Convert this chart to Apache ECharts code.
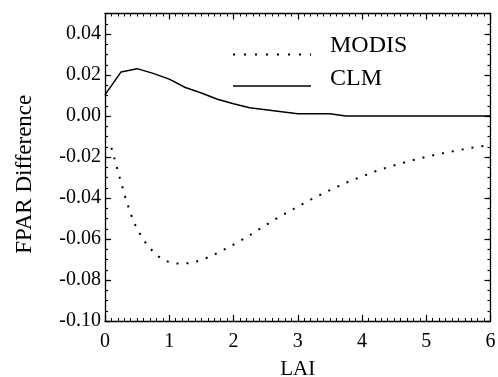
<!DOCTYPE html>
<html><head><meta charset="utf-8">
<script src="https://cdn.jsdelivr.net/npm/echarts@6/dist/echarts.min.js"></script>
<style>html,body{margin:0;padding:0;background:#fff}#c{width:498px;height:377px}</style>
</head><body><div id="c"></div>
<script>
// ---- data ----
const laiModis = [0.1,0.2,0.3,0.4,0.5,0.6,0.7,0.8,0.9,1.0,1.1,1.2,1.3,1.4,1.5,1.6,1.7,1.8,1.9,2.0,2.2,2.4,2.6,2.8,3.0,3.2,3.4,3.6,3.8,4.0,4.2,4.4,4.6,4.8,5.0,5.2,5.4,5.6,5.8,6.0];
const modis = [-0.0155,-0.0268,-0.0380,-0.0478,-0.0553,-0.0605,-0.0645,-0.0678,-0.0700,-0.0713,-0.0719,-0.0720,-0.0718,-0.0712,-0.0702,-0.0690,-0.0676,-0.0660,-0.0644,-0.0627,-0.0592,-0.0552,-0.0513,-0.0477,-0.0442,-0.0408,-0.0377,-0.0347,-0.0319,-0.0295,-0.0271,-0.0250,-0.0232,-0.0215,-0.0199,-0.0185,-0.0173,-0.0161,-0.0150,-0.0141];
const laiClm = [0,0.25,0.5,0.75,1.0,1.25,1.5,1.75,2.0,2.25,3.0,3.5,3.75,6.0];
const clm = [0.0103,0.0215,0.0231,0.0208,0.0180,0.0139,0.0112,0.0082,0.0060,0.0040,0.0011,0.0011,0.0000,0.0000];
const xTicks = [0,1,2,3,4,5,6];
const yTicks = [-0.10,-0.08,-0.06,-0.04,-0.02,0.00,0.02,0.04];
const seriesNames = ['MODIS','CLM'];
const xName = 'LAI';
const yName = 'FPAR Difference';

const yMin = -0.10, yMax = 0.05, yMinorStep = 0.005;
const yMinor = [];
for (let i = 0; yMin + i * yMinorStep <= yMax + 1e-9; i++) yMinor.push(+(yMin + i * yMinorStep).toFixed(3));

const FONT = 'Liberation Serif';
const chart = echarts.init(document.getElementById('c'), null, {renderer: 'canvas'});

function xAxisDef(pos, labels) {
  const ax = {
    type: 'value', position: pos, min: xTicks[0], max: xTicks[xTicks.length - 1], interval: 1,
    axisLine: {show: true, onZero: false, lineStyle: {color: '#000', width: 1.3}},
    axisTick: {show: true, inside: true, length: 6, lineStyle: {color: '#000', width: 1.2}},
    minorTick: {show: true, splitNumber: 10, length: 3, lineStyle: {color: '#000', width: 1}},
    splitLine: {show: false},
    axisLabel: labels ? {show: true, color: '#000', fontFamily: FONT, fontSize: 20, margin: 11,
      formatter: v => String(v)} : {show: false}
  };
  if (labels) {
    ax.name = xName; ax.nameLocation = 'middle'; ax.nameGap = 38;
    ax.nameTextStyle = {color: '#000', fontFamily: FONT, fontSize: 21};
  }
  return ax;
}
function yAxisDef(pos, major, labels) {
  const ax = {
    type: 'value', position: pos, min: yMin, max: yMax, interval: 0.02,
    axisLine: {show: major, onZero: false, lineStyle: {color: '#000', width: 1.3}},
    axisTick: {show: true, inside: true, length: major ? 6 : 3, customValues: major ? yTicks : yMinor,
      lineStyle: {color: '#000', width: 1.2}},
    splitLine: {show: false},
    axisLabel: labels ? {show: true, color: '#000', fontFamily: FONT, fontSize: 20, margin: 4,
      customValues: yTicks, formatter: v => v.toFixed(2)} : {show: false}
  };
  if (labels) {
    ax.name = yName; ax.nameLocation = 'middle'; ax.nameGap = 69;
    ax.nameTextStyle = {color: '#000', fontFamily: FONT, fontSize: 23, padding: [0, 14, 0, 0]};
  }
  return ax;
}

const option = {
  backgroundColor: '#fff',
  animation: false,
  grid: {left: 105, right: 7.5, top: 13.5, bottom: 56, containLabel: false, outerBoundsMode: 'none'},
  xAxis: [xAxisDef('bottom', true), xAxisDef('top', false)],
  yAxis: [yAxisDef('left', true, true), yAxisDef('left', false, false),
          yAxisDef('right', true, false), yAxisDef('right', false, false)],
  series: [
    {name: seriesNames[0], type: 'line', xAxisIndex: 0, yAxisIndex: 0, showSymbol: false, symbol: 'none',
     data: laiModis.map((x, i) => [x, modis[i]]),
     lineStyle: {color: '#000', width: 2, type: [2, 8]}},
    {name: seriesNames[1], type: 'line', xAxisIndex: 0, yAxisIndex: 0, showSymbol: false, symbol: 'none',
     data: laiClm.map((x, i) => [x, clm[i]]),
     lineStyle: {color: '#000', width: 1.5}}
  ],
  graphic: [
    {type: 'line', shape: {x1: 233, y1: 54.5, x2: 311, y2: 54.5},
     style: {stroke: '#000', lineWidth: 2, lineDash: [2, 9]}},
    {type: 'text', left: 330, top: 34, style: {text: seriesNames[0], fill: '#000', font: '24px "Liberation Serif"'}},
    {type: 'line', shape: {x1: 233, y1: 86, x2: 311, y2: 86},
     style: {stroke: '#000', lineWidth: 1.5}},
    {type: 'text', left: 330, top: 67, style: {text: seriesNames[1], fill: '#000', font: '24px "Liberation Serif"'}}
  ]
};
chart.setOption(option);
</script>
</body></html>
